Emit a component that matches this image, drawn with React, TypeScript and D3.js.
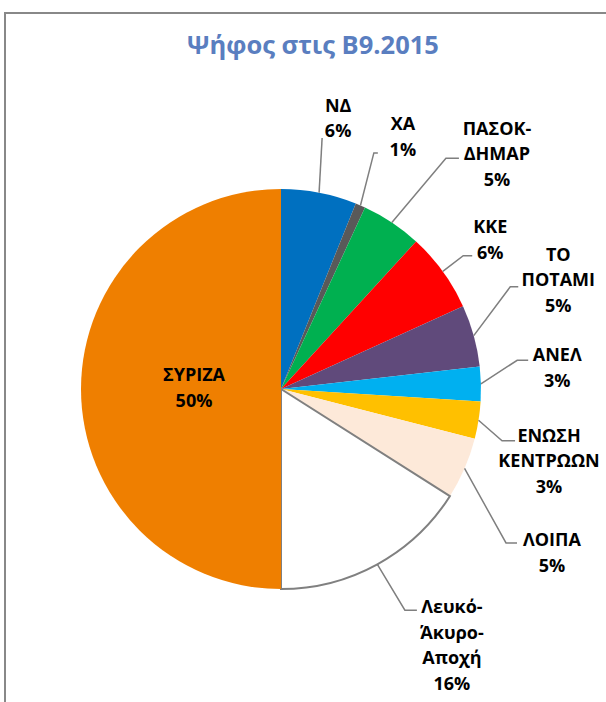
import React from "react";
import * as d3 from "d3";

// Party vote shares (percent), clockwise from 12 o'clock
const parties = [
  "ΝΔ",
  "ΧΑ",
  "ΠΑΣΟΚ-\nΔΗΜΑΡ",
  "ΚΚΕ",
  "ΤΟ\nΠΟΤΑΜΙ",
  "ΑΝΕΛ",
  "ΕΝΩΣΗ\nΚΕΝΤΡΩΩΝ",
  "ΛΟΙΠΑ",
  "Λευκό-\nΆκυρο-\nΑποχή",
  "ΣΥΡΙΖΑ",
];
const shares = [6.1, 0.8, 4.9, 6.4, 5.0, 2.8, 3.0, 5.0, 16.0, 50.0];

const sliceColors = [
  "#0070C0",
  "#595959",
  "#00B050",
  "#FF0000",
  "#604A7B",
  "#00B0F0",
  "#FFC000",
  "#FDE9D9",
  "#FFFFFF",
  "#EF7F00",
];

// label placement: polar position of the label block [angle deg, radius],
// leader end relative to label centre [dx, dy] and horizontal stub length
const labelLayout: { a: number; r: number; ex: number; ey: number; h: number; inside?: boolean }[] = [
  { a: 11.9, r: 277, ex: -16, ey: 20, h: 0 },
  { a: 25.8, r: 280, ex: -25, ey: 16, h: 4 },
  { a: 42.6, r: 319, ex: -38, ey: 4, h: 13 },
  { a: 54.5, r: 257, ex: -18, ey: 16, h: 9 },
  { a: 68.5, r: 298, ex: -40, ey: 7, h: 8 },
  { a: 85.6, r: 277, ex: -29, ey: -7.5, h: 11 },
  { a: 105, r: 277.5, ex: -34, ey: -20, h: 13 },
  { a: 121.1, r: 316.5, ex: -35, ey: -9.5, h: 11 },
  { a: 146.3, r: 308, ex: -35, ey: -35, h: 12 },
  { a: 270.7, r: 87, ex: 0, ey: 0, h: 0, inside: true },
];

const title = "Ψήφος στις Β9.2015";

const W = 606;
const H = 702;
const cx = 281;
const cy = 389;
const R = 200;
const lineH = 25.5;
const font = "'Open Sans', 'Noto Sans', sans-serif";

export default function App() {
  const total = d3.sum(shares);
  const pct = d3.format(".0%");
  const pie = d3
    .pie<number>()
    .value((d) => d)
    .sort(null)
    .startAngle(0)
    .endAngle(2 * Math.PI);
  const arcs = pie(shares);
  const arc = d3.arc<d3.PieArcDatum<number>>().innerRadius(0).outerRadius(R);

  const polar = (angleRad: number, r: number): [number, number] => [
    cx + r * Math.sin(angleRad),
    cy - r * Math.cos(angleRad),
  ];

  return (
    <svg
      width={W}
      height={H}
      style={{ position: "absolute", left: 0, top: 0, background: "#fff" }}
    >
      <rect x={5} y={13} width={W + 20} height={H + 20} fill="#fff" stroke="#888" strokeWidth={2} />
      <text
        x={313}
        y={54}
        textAnchor="middle"
        fontFamily={font}
        fontWeight="bold"
        fontSize={25.5}
        fill="#5A7EC0"
      >
        {title}
      </text>

      <g transform={`translate(${cx},${cy})`}>
        {arcs.map((a, i) => (
          <path
            key={i}
            d={arc(a) || ""}
            fill={sliceColors[i]}
            stroke={sliceColors[i] === "#FFFFFF" ? "#808080" : "none"}
            strokeWidth={2}
          />
        ))}
      </g>

      {arcs.map((a, i) => {
        const lay = labelLayout[i];
        const [lx, ly] = polar((lay.a * Math.PI) / 180, lay.r);
        const lines = parties[i].split("\n").concat(pct(shares[i] / total));
        const top = ly - ((lines.length - 1) * lineH) / 2;
        let leader = null;
        if (!lay.inside) {
          const mid = (a.startAngle + a.endAngle) / 2;
          const [sx, sy] = polar(mid, R);
          const endX = lx + lay.ex;
          const endY = ly + lay.ey;
          const pts: [number, number][] = [
            [sx, sy],
            [endX - lay.h, endY],
            [endX, endY],
          ];
          leader = (
            <path
              d={d3.line()(pts) || ""}
              fill="none"
              stroke="#7F7F7F"
              strokeWidth={1.5}
            />
          );
        }
        return (
          <g key={i}>
            {leader}
            <text
              textAnchor="middle"
              fontFamily={font}
              fontWeight="bold"
              fontSize={18}
              fill="#000"
            >
              {lines.map((t, j) => (
                <tspan key={j} x={lx} y={top + j * lineH} dy="0.35em">
                  {t}
                </tspan>
              ))}
            </text>
          </g>
        );
      })}
    </svg>
  );
}
